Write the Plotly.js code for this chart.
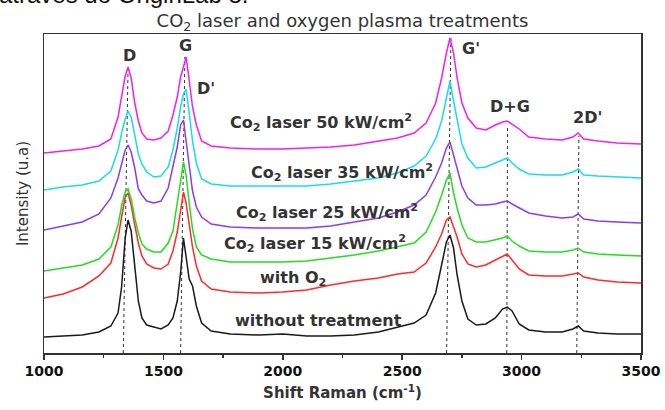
<!DOCTYPE html>
<html>
<head>
<meta charset="utf-8">
<script src="https://cdn.plot.ly/plotly-3.0.1.min.js"></script>
<style>
  html, body { margin: 0; padding: 0; background: #fff; overflow: hidden; }
  #chart { width: 665px; height: 410px; }
</style>
</head>
<body>
<div id="chart"></div>
<script>
// ---- Data ----
const wavenumber = [1000, 1080, 1160, 1230, 1280, 1310, 1325, 1340, 1352, 1365,
  1380, 1395, 1410, 1430, 1460, 1490, 1520, 1540, 1558, 1572,
  1584, 1595, 1608, 1622, 1638, 1660, 1700, 1780, 1900, 2000,
  2100, 2200, 2300, 2400, 2480, 2550, 2600, 2640, 2665, 2685,
  2700, 2715, 2730, 2750, 2775, 2810, 2850, 2890, 2920, 2940,
  2960, 2990, 3030, 3100, 3170, 3215, 3237, 3260, 3320, 3400, 3500];

const withoutTreatment = [16, 17, 18, 21, 27, 40, 66, 115, 133, 122,
  88, 52, 35, 28, 26, 24, 28, 35, 52, 80,
  115, 96, 74, 67, 47, 30, 22, 19, 18, 19,
  17, 17, 18, 21, 26, 30, 38, 60, 88, 111,
  118, 105, 78, 52, 34, 28, 29, 35, 44, 46,
  42, 29, 23, 21, 21, 24, 27, 22, 20, 19, 19];

const withO2 = [55, 59, 66, 77, 90, 115, 136, 156, 160, 148,
  128, 110, 97, 89, 85, 84, 89, 102, 121, 145,
  161, 150, 130, 106, 87, 72, 64, 61, 60, 61,
  63, 68, 72, 75, 79, 81, 90, 106, 119, 133,
  136, 127, 116, 99, 89, 86, 88, 93, 97, 99,
  93, 84, 78, 77, 77, 79, 80, 76, 73, 71, 70];

const laser15 = [82, 85, 88, 94, 106, 128, 147, 161, 164, 154,
  135, 120, 109, 104, 101, 101, 110, 122, 148, 172,
  191, 178, 150, 124, 106, 98, 94, 91, 91, 91,
  92, 95, 98, 102, 106, 110, 121, 141, 158, 173,
  180, 160, 145, 128, 115, 111, 111, 113, 115, 117,
  112, 107, 102, 101, 101, 103, 105, 101, 99, 98, 97];

const laser25 = [123, 127, 131, 139, 155, 175, 190, 203, 208, 201,
  185, 164, 158, 152, 150, 152, 165, 185, 206, 228,
  233, 212, 185, 162, 146, 136, 129, 126, 125, 125,
  125, 127, 131, 135, 141, 148, 158, 176, 190, 205,
  211, 198, 184, 167, 155, 148, 148, 149, 151, 152,
  149, 145, 140, 137, 135, 136, 139, 134, 132, 131, 130];

const laser35 = [163, 166, 168, 172, 182, 203, 220, 234, 242, 236,
  218, 199, 189, 181, 176, 177, 186, 203, 225, 246,
  259, 264, 240, 212, 190, 174, 169, 167, 167, 167,
  167, 169, 172, 175, 180, 187, 197, 214, 232, 256,
  272, 252, 233, 209, 195, 185, 186, 190, 193, 195,
  190, 184, 179, 178, 178, 181, 184, 178, 177, 176, 175];

const laser50 = [200, 202, 204, 207, 214, 236, 257, 277, 286, 275,
  250, 232, 220, 214, 213, 215, 222, 238, 256, 276,
  286, 296, 273, 246, 228, 212, 207, 205, 204, 204,
  205, 206, 208, 212, 215, 220, 230, 250, 275, 300,
  315, 300, 275, 250, 235, 225, 223, 228, 231, 232,
  229, 224, 216, 214, 213, 216, 220, 214, 212, 210, 209];

const seriesNames = ['without treatment', 'with O2', 'Co2 laser 15 kW/cm2',
  'Co2 laser 25 kW/cm2', 'Co2 laser 35 kW/cm2', 'Co2 laser 50 kW/cm2'];
const seriesValues = [withoutTreatment, withO2, laser15, laser25, laser35, laser50];
const seriesColors = ['#1a1a1a', '#ff2a2a', '#22dd22', '#8a3cf0', '#18dcec', '#f020f0'];

const curveLabels = ['without treatment', 'with O<sub>2</sub>',
  'Co<sub>2</sub> laser 15 kW/cm<sup>2</sup>', 'Co<sub>2</sub> laser 25 kW/cm<sup>2</sup>',
  'Co<sub>2</sub> laser 35 kW/cm<sup>2</sup>', 'Co<sub>2</sub> laser 50 kW/cm<sup>2</sup>'];

const peakNames = ['D', 'G', "D'", "G'", 'D+G', "2D'"];

// dotted guide lines: bottom x, top x, top intensity
const guideBottomX = [1332, 1572, 2686, 2938, 3231];
const guideTopX = [1352, 1590, 2704, 2941, 3240];
const guideTopY = [285, 296, 315, 226, 217];

const tickValues = [1000, 1500, 2000, 2500, 3000, 3500];
const tickLabels = ['1000', '1500', '2000', '2500', '3000', '3500'];

// ---- Build traces ----
const traces = [];
const gx = [], gy = [];
guideBottomX.forEach((b, i) => {
  gx.push(b, guideTopX[i], null);
  gy.push(0, guideTopY[i], null);
});
traces.push({
  x: gx, y: gy, type: 'scatter', mode: 'lines', showlegend: false, hoverinfo: 'skip',
  line: { color: '#333', width: 1, dash: 'dot' }
});
seriesValues.forEach((vals, i) => {
  traces.push({
    x: wavenumber, y: vals, type: 'scatter', mode: 'lines', name: seriesNames[i],
    showlegend: false,
    line: { color: seriesColors[i], width: 1.5 }
  });
});

// ---- Annotations ----
const labelFont = { family: 'DejaVu Sans', size: 16, color: '#333', weight: 'bold' };
const curveLabelPos = [[2150, 33], [2041, 75], [2135, 110], [2187, 141], [2248, 181], [2160, 231]];
const peakLabelPos = [[1360, 298], [1593, 308], [1678, 265], [2786, 305], [2951, 247], [3278, 236]];
const annotations = [];
curveLabels.forEach((t, i) => {
  annotations.push({ x: curveLabelPos[i][0], y: curveLabelPos[i][1], xref: 'x', yref: 'y',
    text: t, showarrow: false, xanchor: 'center', yanchor: 'middle', font: labelFont });
});
peakNames.forEach((t, i) => {
  annotations.push({ x: peakLabelPos[i][0], y: peakLabelPos[i][1], xref: 'x', yref: 'y',
    text: t, showarrow: false, xanchor: 'center', yanchor: 'middle', font: labelFont });
});
// cropped caption text at the very top of the picture
annotations.push({ x: -0.078, y: 1.075, xref: 'paper', yref: 'paper', text: 'através do OriginLab 8.',
  showarrow: false, xanchor: 'left', yanchor: 'bottom',
  font: { family: 'Liberation Sans', size: 24, color: '#111' } });

const layout = {
  width: 665, height: 410,
  margin: { l: 44, r: 24, t: 34, b: 57 },
  paper_bgcolor: '#fff', plot_bgcolor: '#fff',
  title: { text: 'CO<sub>2</sub> laser and oxygen plasma treatments',
    font: { family: 'DejaVu Sans', size: 18, color: '#333' },
    x: 0.5, xref: 'paper', y: 0.95, yanchor: 'middle' },
  xaxis: {
    range: [1000, 3500], tickvals: tickValues, ticktext: tickLabels,
    ticks: 'outside', ticklen: 5, tickwidth: 1.5, tickcolor: '#333',
    minor: { dtick: 250, tick0: 1000, ticks: 'outside', ticklen: 3, tickwidth: 1.5, tickcolor: '#333' },
    showline: true, mirror: true, linecolor: '#333', linewidth: 1.5,
    showgrid: false, zeroline: false,
    tickfont: { family: 'DejaVu Sans', size: 14, color: '#111', weight: 'bold' },
    title: { text: 'Shift Raman (cm<sup>-1</sup>)', standoff: 9,
      font: { family: 'DejaVu Sans', size: 15, color: '#333', weight: 'bold' } }
  },
  yaxis: {
    range: [0, 319], showticklabels: false, ticks: '',
    showline: true, mirror: true, linecolor: '#333', linewidth: 1.5,
    showgrid: false, zeroline: false,
    title: { text: 'Intensity (u.a)', standoff: 10,
      font: { family: 'DejaVu Sans', size: 15, color: '#333' } }
  },
  annotations: annotations,
  showlegend: false
};

Plotly.newPlot('chart', traces, layout, { displayModeBar: false, staticPlot: true });
</script>
</body>
</html>
